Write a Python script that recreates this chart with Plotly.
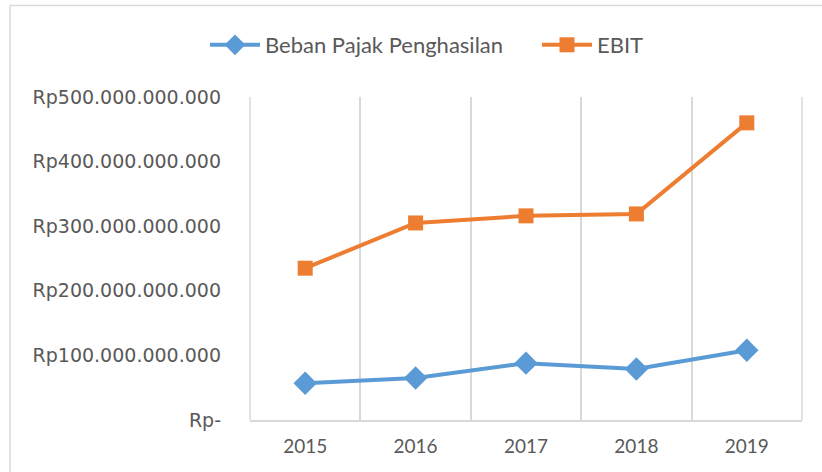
import plotly.graph_objects as go

years = ["2015", "2016", "2017", "2018", "2019"]
beban = [57e9, 65e9, 88e9, 79e9, 108e9]
ebit = [235e9, 305e9, 316e9, 319e9, 460e9]
ytick_vals = [0, 100e9, 200e9, 300e9, 400e9, 500e9]
ytick_text = ["Rp-", "Rp100.000.000.000", "Rp200.000.000.000", "Rp300.000.000.000",
              "Rp400.000.000.000", "Rp500.000.000.000"]

W, H = 822, 472
L, R, T, B = 250, 802, 97, 420

fig = go.Figure()
fig.add_trace(go.Scatter(x=years, y=beban, name="Beban Pajak Penghasilan", mode="lines+markers",
                         line=dict(color="#5B9BD5", width=4), legend="legend",
                         marker=dict(symbol="diamond", size=18, color="#5B9BD5")))
fig.add_trace(go.Scatter(x=years, y=ebit, name="EBIT", mode="lines+markers",
                         line=dict(color="#ED7D31", width=4), legend="legend2",
                         marker=dict(symbol="square", size=15, color="#ED7D31")))

def px_x(p):
    return (p - L) / (R - L)

def px_y(p):
    return (B - p) / (B - T)

leg_common = dict(orientation="h", xanchor="left", y=px_y(45), yanchor="middle",
                  font=dict(size=22, family="Lato, sans-serif"), itemwidth=50,
                  bgcolor="rgba(0,0,0,0)")

fig.update_layout(
    width=W, height=H,
    margin=dict(l=L, r=W - R, t=T, b=H - B, pad=0),
    paper_bgcolor="white", plot_bgcolor="white",
    font=dict(family="Lato, Open Sans, sans-serif", color="#595959", size=18),
    showlegend=True,
    legend=dict(x=px_x(205), **leg_common),
    legend2=dict(x=px_x(537), **leg_common),
    xaxis=dict(type="category", tickson="boundaries", showgrid=True, gridcolor="#d9d9d9",
               gridwidth=1.5, showline=True, linecolor="#d9d9d9", linewidth=1.5,
               ticks="", tickfont=dict(size=19, family="Lato, sans-serif"),
               ticklabelstandoff=8,
               range=[-0.5, 4.5], fixedrange=True, zeroline=False),
    yaxis=dict(range=[0, 500e9], tickvals=ytick_vals, ticktext=ytick_text, showgrid=False,
               zeroline=False, showline=False, ticks="", ticklabelstandoff=28,
               tickfont=dict(size=19, family="DejaVu Sans"), tickangle=0),
    shapes=[
        dict(type="line", xref="paper", yref="paper", x0=px_x(10), x1=px_x(822),
             y0=px_y(5.5), y1=px_y(5.5), line=dict(color="#d9d9d9", width=1.5)),
        dict(type="line", xref="paper", yref="paper", x0=px_x(10), x1=px_x(10),
             y0=px_y(5.5), y1=px_y(472), line=dict(color="#d9d9d9", width=1.5)),
        dict(type="line", xref="paper", yref="paper", x0=1, x1=1,
             y0=0, y1=1, line=dict(color="#d9d9d9", width=1.5)),
        dict(type="line", xref="paper", yref="paper", x0=0, x1=0,
             y0=0, y1=1, line=dict(color="#d9d9d9", width=1.5)),
    ],
)

fig.write_html("out.html", config={"displayModeBar": False},
               post_script="document.body.style.margin='0';document.body.style.overflow='hidden';")
